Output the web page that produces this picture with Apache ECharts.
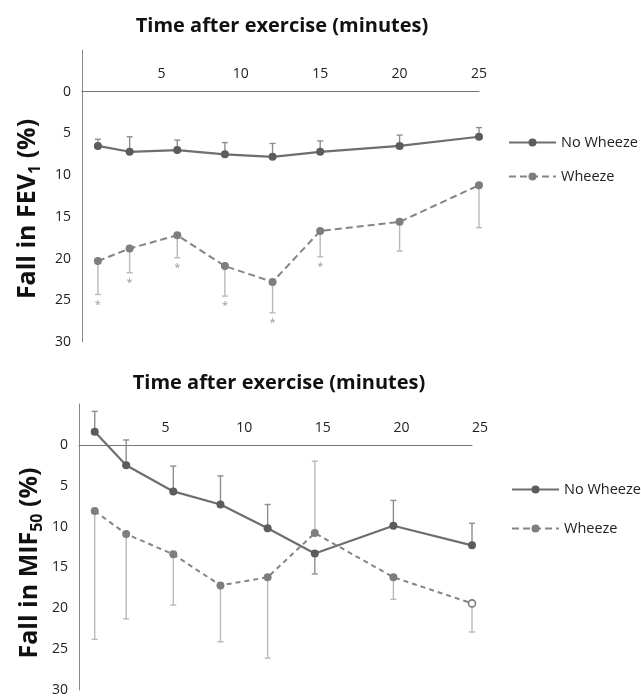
<!DOCTYPE html>
<html><head><meta charset="utf-8">
<script src="https://cdn.jsdelivr.net/npm/echarts@6/dist/echarts.min.js"></script>
<style>html,body{margin:0;padding:0;background:#fff}#c{width:641px;height:697px}</style>
</head><body><div id="c"></div>
<script>
// ---- data ----
const times = [1, 3, 6, 9, 12, 15, 20, 25];
const xTicks = [5, 10, 15, 20, 25];
const yTicks = [0, 5, 10, 15, 20, 25, 30];
const seriesNames = ['No Wheeze', 'Wheeze'];
const panelTitle = 'Time after exercise (minutes)';

// Panel 1: Fall in FEV1 (%)
const fev1NoWheeze       = [6.5, 7.2, 7.0, 7.5, 7.8, 7.2, 6.5, 5.4];
const fev1NoWheezeBarEnd = [5.7, 5.4, 5.8, 6.1, 6.2, 5.9, 5.2, 4.3];
const fev1Wheeze         = [20.3, 18.8, 17.2, 20.9, 22.8, 16.7, 15.6, 11.2];
const fev1WheezeBarEnd   = [24.3, 21.7, 19.9, 24.5, 26.5, 19.8, 19.1, 16.3];
const fev1Significant    = [1, 1, 1, 1, 1, 1, 0, 0];

// Panel 2: Fall in MIF50 (%)
const mifNoWheeze        = [-1.6, 2.5, 5.7, 7.3, 10.2, 13.3, 9.9, 12.3];
const mifNoWheezeBarEnd  = [-4.1, -0.6, 2.6, 3.8, 7.3, 15.8, 6.8, 9.6];
const mifWheeze          = [8.1, 10.9, 13.4, 17.2, 16.2, 10.8, 16.2, 19.4];
const mifWheezeBarEnd    = [23.8, 21.3, 19.6, 24.1, 26.1, 2.0, 18.9, 22.9];
const mifWheezeHollow    = [0, 0, 0, 0, 0, 0, 0, 1];

// ---- styles ----
const FONT = '"Open Sans", sans-serif';
const C_NW_LINE = '#6e6e6e', C_NW_DOT = '#5c5c5c', C_NW_BAR = '#8e8e8e';
const C_W_LINE = '#858585', C_W_DOT = '#7e7e7e', C_W_BAR = '#b9b9b9';
const Y_MIN = -5, Y_MAX = 30;
const GRID_H = [292, 291.6];

function errBars(name, idx, vals, ends, color, stars) {
  return {
    type: 'custom', name: name, xAxisIndex: idx, yAxisIndex: idx, z: 1, silent: true,
    data: times.map((t, i) => [t, vals[i], ends[i], stars ? stars[i] : 0]),
    renderItem: function (params, api) {
      const p0 = api.coord([api.value(0), api.value(1)]);
      const p1 = api.coord([api.value(0), api.value(2)]);
      const ch = [
        {type: 'line', shape: {x1: p0[0], y1: p0[1], x2: p1[0], y2: p1[1]}, style: {stroke: color, lineWidth: 1.4}},
        {type: 'line', shape: {x1: p1[0] - 3, y1: p1[1], x2: p1[0] + 3, y2: p1[1]}, style: {stroke: color, lineWidth: 1.4}}
      ];
      if (api.value(3)) {
        ch.push({type: 'text', x: p1[0], y: p1[1] + 10,
          style: {text: '*', fill: '#9a9a9a', fontSize: 11, fontFamily: FONT, align: 'center', verticalAlign: 'middle'}});
      }
      return {type: 'group', children: ch};
    }
  };
}

function lineSeries(name, idx, vals, dashed, hollow) {
  return {
    type: 'line', name: name, xAxisIndex: idx, yAxisIndex: idx, z: 3,
    symbol: 'circle', symbolSize: 8,
    data: times.map((t, i) => (hollow && hollow[i])
      ? {value: [t, vals[i]], itemStyle: {color: '#fff', borderColor: C_W_DOT, borderWidth: 1.6}, symbolSize: 7}
      : [t, vals[i]]),
    lineStyle: dashed ? {color: C_W_LINE, width: 2, type: dashed} : {color: C_NW_LINE, width: 2.2},
    itemStyle: {color: dashed ? C_W_DOT : C_NW_DOT}
  };
}

function xAx(idx, pad) {
  // axis drawn at the y = 0 level: shift it into the grid by the (-5..0) span
  const off = -GRID_H[idx] * (0 - Y_MIN) / (Y_MAX - Y_MIN);
  return {
    gridIndex: idx, type: 'value', min: 0, max: 25, interval: 5, position: 'top', offset: off,
    axisLine: {onZero: false, lineStyle: {color: '#777', width: 1}},
    axisTick: {show: false}, splitLine: {show: false},
    axisLabel: {formatter: v => xTicks.includes(v) ? String(v) : '', fontSize: 14, color: '#222',
      fontFamily: FONT, margin: 11, padding: [0, 0, 0, pad]}
  };
}
function yAx(idx) {
  return {
    gridIndex: idx, type: 'value', inverse: true, min: Y_MIN, max: Y_MAX, interval: 5, position: 'left',
    axisLine: {show: true, onZero: false, lineStyle: {color: '#888', width: 1}},
    axisTick: {show: false}, splitLine: {show: false},
    axisLabel: {formatter: v => yTicks.includes(v) ? String(v) : '', fontSize: 14, color: '#222',
      fontFamily: FONT, margin: 11}
  };
}

function yName(x, y, main, sub) {
  return {
    type: 'text', x: x, y: y, rotation: Math.PI / 2,
    style: {
      text: '{a|' + main + '}{s|' + sub + '}{a| (%)}',
      align: 'center', verticalAlign: 'middle',
      rich: {
        a: {fontSize: 25, fontWeight: 'bold', fontFamily: FONT, fill: '#111', lineHeight: 30},
        s: {fontSize: 16, fontWeight: 'bold', fontFamily: FONT, fill: '#111', lineHeight: 30, verticalAlign: 'bottom', padding: [8, 0, 0, 0]}
      }
    }
  };
}

const legendBase = {
  orient: 'vertical', data: seriesNames, itemWidth: 47, itemHeight: 10,
  textStyle: {fontSize: 14.5, color: '#222', fontFamily: FONT}, selectedMode: false
};

const option = {
  animation: false,
  backgroundColor: '#fff',
  grid: [
    {left: 82, top: 50, width: 397, height: GRID_H[0]},
    {left: 79, top: 404, width: 393, height: GRID_H[1]}
  ],
  xAxis: [xAx(0, 0), xAx(1, 16)],
  yAxis: [yAx(0), yAx(1)],
  legend: [
    Object.assign({}, legendBase, {left: 503, top: 130, itemGap: 19}),
    Object.assign({}, legendBase, {left: 506, top: 477, itemGap: 24})
  ],
  graphic: [
    {type: 'text', x: 282, y: 26, style: {text: panelTitle, fontSize: 20, fontWeight: 'bold', fontFamily: FONT, fill: '#111', align: 'center', verticalAlign: 'middle'}},
    {type: 'text', x: 279, y: 383, style: {text: panelTitle, fontSize: 20, fontWeight: 'bold', fontFamily: FONT, fill: '#111', align: 'center', verticalAlign: 'middle'}},
    yName(28, 209, 'Fall in FEV', '1'),
    yName(30, 563, 'Fall in MIF', '50')
  ],
  series: [
    errBars('nw-sd-1', 0, fev1NoWheeze, fev1NoWheezeBarEnd, C_NW_BAR, null),
    errBars('w-sd-1', 0, fev1Wheeze, fev1WheezeBarEnd, C_W_BAR, fev1Significant),
    lineSeries(seriesNames[0], 0, fev1NoWheeze, null),
    lineSeries(seriesNames[1], 0, fev1Wheeze, [7, 4]),
    errBars('nw-sd-2', 1, mifNoWheeze, mifNoWheezeBarEnd, C_NW_BAR, null),
    errBars('w-sd-2', 1, mifWheeze, mifWheezeBarEnd, C_W_BAR, null),
    lineSeries(seriesNames[0], 1, mifNoWheeze, null),
    lineSeries(seriesNames[1], 1, mifWheeze, [5, 4], mifWheezeHollow)
  ]
};

const chart = echarts.init(document.getElementById('c'), null, {renderer: 'canvas'});
chart.setOption(option);
</script>
</body></html>
